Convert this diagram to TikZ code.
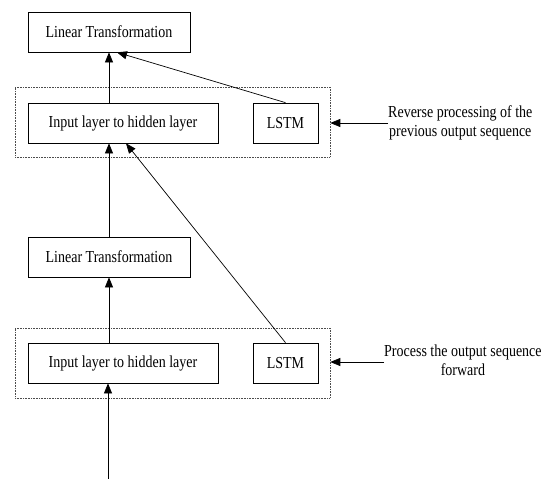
\documentclass[tikz,border=0pt]{standalone}
\usepackage{fontspec}
\setmainfont{Liberation Serif}
\usetikzlibrary{arrows.meta}
\newcommand{\tx}[1]{\scalebox{1}[1.2]{#1}}
\begin{document}
\begin{tikzpicture}[x=1pt,y=-1pt,
  box/.style={draw,line width=0.7pt,rectangle,inner sep=0pt,font=\fontsize{14}{16}\selectfont},
  outer/.style={draw=black!70,line width=0.6pt,dash pattern=on 0.8pt off 0.8pt,rectangle,inner sep=0pt},
  arr/.style={line width=0.7pt,-{Triangle[length=10pt,width=8pt]}},
  lbl/.style={anchor=west,align=center,inner sep=0pt,font=\fontsize{14}{17}\selectfont}]
\useasboundingbox (0,0) rectangle (550,479);
% top group
\node[box,minimum width=162pt,minimum height=40pt] (LT1) at (109,32) {\tx{Linear Transformation}};
\node[outer,minimum width=315pt,minimum height=70pt] (O1) at (172.5,122) {};
\node[box,minimum width=190pt,minimum height=40pt] (I1) at (123,123) {\tx{Input layer to hidden layer}};
\node[box,minimum width=65pt,minimum height=40pt] (L1) at (285.5,123) {\tx{LSTM}};
% bottom group
\node[box,minimum width=162pt,minimum height=40pt] (LT2) at (109,257) {\tx{Linear Transformation}};
\node[outer,minimum width=315pt,minimum height=70pt] (O2) at (172.5,363) {};
\node[box,minimum width=190pt,minimum height=40pt] (I2) at (123,363) {\tx{Input layer to hidden layer}};
\node[box,minimum width=65pt,minimum height=40pt] (L2) at (285.5,363) {\tx{LSTM}};
\coordinate (B) at (108,479);
% labels
\node[lbl] (R1) at (388,123) {\tx{\begin{tabular}{@{}c@{}}Reverse processing of the\\[-1pt] previous output sequence\end{tabular}}};
\node[lbl] (R2) at (384,362) {\tx{\begin{tabular}{@{}c@{}}Process the output sequence\\[-1pt] forward\end{tabular}}};
% connectors
\draw[arr] (LT1.south |- I1.north) -- (LT1.south);
\draw[arr] (L1.north) -- ([xshift=8pt]LT1.south);
\draw[arr] (LT2.north) -- (LT2.north |- I1.south);
\draw[arr] (L2.north) -- ([xshift=3pt]I1.south);
\draw[arr] (LT2.south |- I2.north) -- (LT2.south);
\draw[arr] (B) -- (B |- I2.south);
\draw[arr] (R1.west) -- (R1.west -| O1.east);
\draw[arr] (R2.west) -- (R2.west -| O2.east);
\end{tikzpicture}
\end{document}
